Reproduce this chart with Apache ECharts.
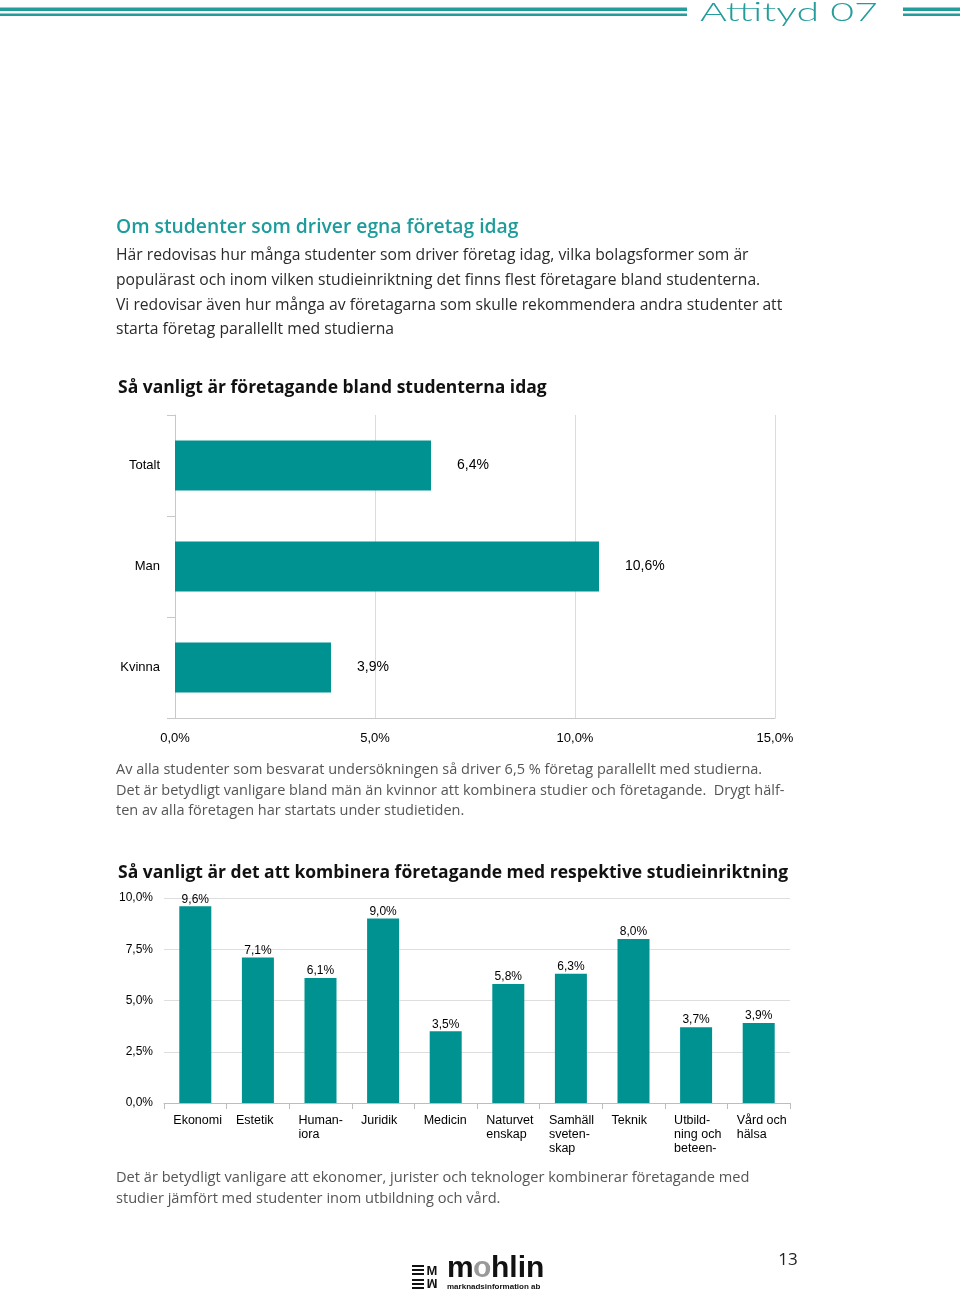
<!DOCTYPE html>
<html><head><meta charset="utf-8">
<script src="https://cdn.jsdelivr.net/npm/echarts@6/dist/echarts.min.js"></script>
<style>html,body{margin:0;padding:0;background:#fff}#c{width:960px;height:1293px}</style>
</head><body><div id="c"></div>
<script>
// Chart 1 data
var groupCats = ['Totalt', 'Man', 'Kvinna'];
var groupVals = [6.4, 10.6, 3.9];
var axis1Ticks = [0, 5, 10, 15];
// Chart 2 data
var fieldCats = ['Ekonomi', 'Estetik', 'Human-\niora', 'Juridik', 'Medicin', 'Naturvet\nenskap', 'Samhäll\nsveten-\nskap', 'Teknik', 'Utbild-\nning och\nbeteen-', 'Vård och\nhälsa'];
var fieldVals = [9.6, 7.1, 6.1, 9.0, 3.5, 5.8, 6.3, 8.0, 3.7, 3.9];
var axis2Ticks = [0, 2.5, 5, 7.5, 10];

var TEAL = '#009191';
var HEAD = '#239c9c';
var BODY = "'Open Sans', 'Noto Sans', sans-serif";
var ARIAL = "'Liberation Sans', Arial, sans-serif";
function pct(v){ return v.toFixed(1).replace('.', ',') + '%'; }

var chart = echarts.init(document.getElementById('c'), null, {renderer:'canvas'});
var option = {
  animation: false,
  backgroundColor: '#fff',
  grid: [
    {left: 175, top: 415, width: 600, height: 303},
    {left: 164, top: 898, width: 626, height: 205}
  ],
  xAxis: [
    {gridIndex: 0, type: 'value', min: axis1Ticks[0], max: axis1Ticks[axis1Ticks.length-1], interval: 5,
     axisLine: {show: true, lineStyle: {color: '#c8c8c8'}},
     axisTick: {show: false},
     splitLine: {show: true, lineStyle: {color: '#dcdcdc'}},
     axisLabel: {formatter: pct, color: '#000', fontFamily: ARIAL, fontSize: 13, margin: 14}},
    {gridIndex: 1, type: 'category', data: fieldCats,
     axisLine: {show: true, lineStyle: {color: '#bdbdbd'}},
     axisTick: {show: true, alignWithLabel: false, length: 6, lineStyle: {color: '#bdbdbd'}},
     axisLabel: {interval: 0, margin: 11, color: '#000', fontFamily: ARIAL, fontSize: 12.5,
       formatter: function(v){ return '{a|' + v.split('\n').join('}\n{a|') + '}'; },
       rich: {a: {width: 44, align: 'left', fontFamily: ARIAL, fontSize: 12.5, lineHeight: 14, color: '#000'}}}}
  ],
  yAxis: [
    {gridIndex: 0, type: 'category', inverse: true, data: groupCats,
     axisLine: {show: true, lineStyle: {color: '#c8c8c8'}},
     axisTick: {show: true, length: 8, lineStyle: {color: '#c8c8c8'}},
     splitLine: {show: false},
     axisLabel: {color: '#000', fontFamily: ARIAL, fontSize: 13, margin: 15}},
    {gridIndex: 1, type: 'value', min: axis2Ticks[0], max: axis2Ticks[axis2Ticks.length-1], interval: 2.5,
     axisLine: {show: false}, axisTick: {show: false},
     splitLine: {show: true, lineStyle: {color: '#dedede'}},
     axisLabel: {formatter: pct, color: '#000', fontFamily: ARIAL, fontSize: 12, margin: 11}}
  ],
  series: [
    {type: 'bar', xAxisIndex: 0, yAxisIndex: 0, data: groupVals, barWidth: 50,
     itemStyle: {color: TEAL},
     label: {show: true, position: 'right', distance: 26, formatter: function(p){ return pct(p.value); },
       color: '#000', fontFamily: ARIAL, fontSize: 14}},
    {type: 'bar', xAxisIndex: 1, yAxisIndex: 1, data: fieldVals, barWidth: 32,
     itemStyle: {color: TEAL},
     label: {show: true, position: 'top', distance: 1, formatter: function(p){ return pct(p.value); },
       color: '#000', fontFamily: ARIAL, fontSize: 12}}
  ],
  graphic: [
    // header lines
    {type: 'rect', shape: {x: 0, y: 7.5, width: 687, height: 3.5}, style: {fill: HEAD}},
    {type: 'rect', shape: {x: 0, y: 13.5, width: 687, height: 2.5}, style: {fill: HEAD}},
    {type: 'rect', shape: {x: 903, y: 7.5, width: 57, height: 3.5}, style: {fill: HEAD}},
    {type: 'rect', shape: {x: 903, y: 13.5, width: 57, height: 2.5}, style: {fill: HEAD}},
    {type: 'text', x: 700, y: 13, scaleX: 1.58, style: {text: 'Attityd 07', x: 0, y: 0, textVerticalAlign: 'middle', fill: HEAD,
      font: "300 26px Lato, 'Open Sans', sans-serif"}},
    // intro
    {type: 'text', style: {text: 'Om studenter som driver egna företag idag', x: 116, y: 228, textVerticalAlign: 'middle',
      fill: '#1e9c9c', font: "600 19.3px " + BODY}},
    {type: 'text', style: {text: 'Här redovisas hur många studenter som driver företag idag, vilka bolagsformer som är\npopulärast och inom vilken studieinriktning det finns flest företagare bland studenterna.\nVi redovisar även hur många av företagarna som skulle rekommendera andra studenter att\nstarta företag parallellt med studierna',
      x: 116, y: 243.7, textVerticalAlign: 'top', lineHeight: 24.6, fill: '#2a2a2a', font: "15.7px " + BODY}},
    {type: 'text', style: {text: 'Så vanligt är företagande bland studenterna idag', x: 118, y: 388, textVerticalAlign: 'middle',
      fill: '#111', font: "bold 17.5px " + BODY}},
    {type: 'text', style: {text: 'Av alla studenter som besvarat undersökningen så driver 6,5 % företag parallellt med studierna.\nDet är betydligt vanligare bland män än kvinnor att kombinera studier och företagande.  Drygt hälf-\nten av alla företagen har startats under studietiden.',
      x: 116, y: 759.7, textVerticalAlign: 'top', lineHeight: 20.5, fill: '#555', font: "14.5px " + BODY}},
    {type: 'text', style: {text: 'Så vanligt är det att kombinera företagande med respektive studieinriktning', x: 118, y: 873, textVerticalAlign: 'middle',
      fill: '#111', font: "bold 17.5px " + BODY}},
    {type: 'text', style: {text: 'Det är betydligt vanligare att ekonomer, jurister och teknologer kombinerar företagande med\nstudier jämfört med studenter inom utbildning och vård.',
      x: 116, y: 1167.7, textVerticalAlign: 'top', lineHeight: 20.5, fill: '#555', font: "14.6px " + BODY}},
    // footer
    {type: 'text', style: {text: '13', x: 788, y: 1260, textAlign: 'center', textVerticalAlign: 'middle', fill: '#222', font: "17px " + BODY}},
    {type: 'text', style: {text: 'm', x: 447, y: 1269, textVerticalAlign: 'middle', fill: '#111', font: "bold 30px " + ARIAL}},
    {type: 'text', style: {text: 'o', x: 473, y: 1269, textVerticalAlign: 'middle', fill: '#999', font: "bold 30px " + ARIAL}},
    {type: 'text', style: {text: 'hlin', x: 491, y: 1269, textVerticalAlign: 'middle', fill: '#111', font: "bold 30px " + ARIAL}},
    {type: 'text', style: {text: 'marknadsinformation ab', x: 447, y: 1287, textVerticalAlign: 'middle', fill: '#111', font: "bold 8px " + ARIAL}},
    {type: 'text', style: {text: 'M', x: 432, y: 1271, textAlign: 'center', textVerticalAlign: 'middle', fill: '#111', font: "bold 13px " + ARIAL}},
    {type: 'text', x: 432, y: 1283, rotation: Math.PI, style: {text: 'M', x: 0, y: 0, textAlign: 'center', textVerticalAlign: 'middle', fill: '#111', font: "bold 13px " + ARIAL}},
    {type: 'rect', shape: {x: 412, y: 1265, width: 12, height: 2}, style: {fill: '#111'}},
    {type: 'rect', shape: {x: 412, y: 1269, width: 12, height: 2}, style: {fill: '#111'}},
    {type: 'rect', shape: {x: 412, y: 1273, width: 12, height: 2}, style: {fill: '#111'}},
    {type: 'rect', shape: {x: 412, y: 1279, width: 12, height: 2}, style: {fill: '#111'}},
    {type: 'rect', shape: {x: 412, y: 1283, width: 12, height: 2}, style: {fill: '#111'}},
    {type: 'rect', shape: {x: 412, y: 1287, width: 12, height: 2}, style: {fill: '#111'}}
  ]
};
chart.setOption(option);
</script></body></html>
